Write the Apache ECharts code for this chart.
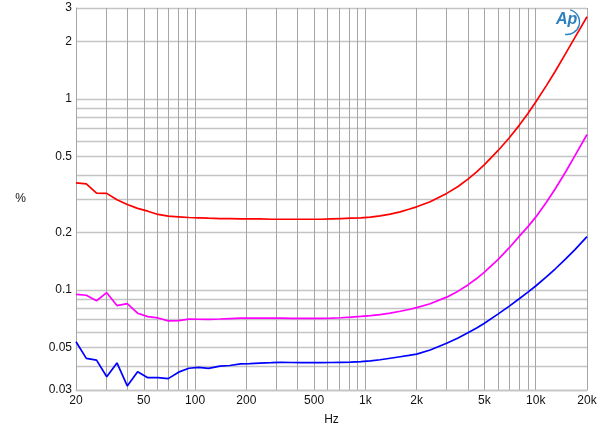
<!DOCTYPE html>
<html>
<head>
<meta charset="utf-8">
<script src="https://cdn.jsdelivr.net/npm/echarts@6/dist/echarts.min.js"></script>
<style>
html,body{margin:0;padding:0;background:#fff;}
#chart{width:600px;height:432px;}
</style>
</head>
<body>
<div id="chart"></div>
<script>
// Frequencies (Hz)
var freq = [20, 23, 26.4, 30.3, 34.8, 40, 46, 52.8, 60.6, 69.6, 80, 92, 105, 120, 140, 160, 185, 210, 240, 280, 320, 370, 420, 480, 550, 630, 720, 820, 940, 1070, 1220, 1400, 1600, 1800, 2000, 2400, 3000, 3500, 4000, 4500, 5000, 6000, 7000, 8000, 9000, 10000, 11500, 13000, 15000, 17000, 20000];

// red trace (%)
var redVals = [0.364, 0.360, 0.322, 0.321, 0.297, 0.281, 0.268, 0.259, 0.249, 0.244, 0.242, 0.240, 0.239, 0.238, 0.237, 0.237, 0.236, 0.236, 0.236, 0.235, 0.235, 0.235, 0.235, 0.235, 0.235, 0.236, 0.237, 0.238, 0.239, 0.241, 0.245, 0.250, 0.257, 0.265, 0.273, 0.290, 0.321, 0.349, 0.381, 0.416, 0.454, 0.537, 0.628, 0.729, 0.842, 0.965, 1.17, 1.396, 1.735, 2.107, 2.698];

// magenta trace (%)
var magentaVals = [0.095, 0.094, 0.088, 0.097, 0.083, 0.085, 0.0757, 0.0727, 0.0715, 0.069, 0.0692, 0.0705, 0.0704, 0.0703, 0.0706, 0.071, 0.0714, 0.0714, 0.0713, 0.0714, 0.0714, 0.0712, 0.0711, 0.0711, 0.0712, 0.0713, 0.0717, 0.0722, 0.0728, 0.0735, 0.0745, 0.0758, 0.0775, 0.0792, 0.081, 0.0848, 0.0919, 0.0988, 0.1065, 0.115, 0.1242, 0.1445, 0.1668, 0.1911, 0.215, 0.241, 0.287, 0.3387, 0.4167, 0.5059, 0.653];

// blue trace (%)
var blueVals = [0.0537, 0.0439, 0.043, 0.0352, 0.0416, 0.0315, 0.0374, 0.0348, 0.0348, 0.0344, 0.0372, 0.039, 0.0394, 0.0389, 0.0400, 0.0403, 0.0411, 0.0412, 0.0415, 0.0417, 0.0419, 0.0418, 0.0417, 0.0417, 0.0417, 0.0418, 0.0419, 0.042, 0.0422, 0.0426, 0.0432, 0.044, 0.0448, 0.0455, 0.0462, 0.0486, 0.0527, 0.0562, 0.0598, 0.0634, 0.0671, 0.0749, 0.0825, 0.0901, 0.0976, 0.1051, 0.1169, 0.129, 0.1457, 0.1631, 0.1906];

// Axis ticks
var xGridTicks = [20, 30, 40, 50, 60, 70, 80, 90, 100, 200, 300, 400, 500, 600, 700, 800, 900, 1000, 2000, 3000, 4000, 5000, 6000, 7000, 8000, 9000, 10000, 20000];
var xLabelTicks = [20, 50, 100, 200, 500, 1000, 2000, 5000, 10000, 20000];
var yGridTicks = [0.03, 0.04, 0.05, 0.06, 0.07, 0.08, 0.09, 0.1, 0.2, 0.3, 0.4, 0.5, 0.6, 0.7, 0.8, 0.9, 1, 2, 3];
var yLabelTicks = [0.03, 0.05, 0.1, 0.2, 0.5, 1, 2, 3];

function pairs(xs, ys) {
  var out = [];
  for (var i = 0; i < xs.length; i++) out.push([xs[i], ys[i]]);
  return out;
}

var vGridColor = '#a6a6a6';
var hGridColor = '#c4c4c4';
var font = '"Liberation Sans", Arial, sans-serif';

var chart = echarts.init(document.getElementById('chart'), null, {renderer: 'canvas'});
chart.setOption({
  animation: false,
  backgroundColor: '#ffffff',
  grid: {left: 76, right: 13, top: 8, bottom: 42, containLabel: false},
  xAxis: {
    type: 'log',
    logBase: 10,
    min: 20,
    max: 20000,
    name: 'Hz',
    nameLocation: 'middle',
    nameGap: 24,
    nameTextStyle: {color: '#111', fontSize: 12, fontFamily: font},
    axisLine: {show: true, lineStyle: {color: hGridColor, width: 1.4}},
    axisTick: {show: false, customValues: xGridTicks},
    splitLine: {show: true, lineStyle: {color: vGridColor, width: 1}},
    axisLabel: {
      customValues: xLabelTicks,
      color: '#111', fontSize: 12, fontFamily: font, margin: 5,
      formatter: function (v) {
        v = Math.round(v);
        return v >= 1000 ? (v / 1000) + 'k' : String(v);
      }
    }
  },
  yAxis: {
    type: 'log',
    logBase: 10,
    min: 0.03,
    max: 3,
    name: '%',
    nameLocation: 'middle',
    nameRotate: 0,
    nameGap: 50,
    nameTextStyle: {color: '#111', fontSize: 12, fontFamily: font},
    axisLine: {show: true, lineStyle: {color: vGridColor, width: 1}},
    axisTick: {show: false, customValues: yGridTicks},
    splitLine: {show: true, lineStyle: {color: hGridColor, width: 1.4}},
    axisLabel: {
      customValues: yLabelTicks,
      color: '#111', fontSize: 12, fontFamily: font, margin: 4,
      formatter: function (v) { return String(parseFloat(Number(v).toPrecision(3))); }
    }
  },
  graphic: [
    {
      type: 'text', left: 556, top: 12, z: 100,
      style: {text: 'Ap', fontSize: 16, fontStyle: 'italic', fontWeight: 'bold', fontFamily: font, fill: '#2a7fc1'}
    },
    {
      type: 'arc', z: 100,
      shape: {cx: 567, cy: 22, r: 12.5, startAngle: -Math.PI * 0.42, endAngle: Math.PI * 0.55},
      style: {stroke: '#2a7fc1', lineWidth: 1.4, fill: null}
    }
  ],
  series: [
    {type: 'line', name: 'red', data: pairs(freq, redVals), showSymbol: false, lineStyle: {color: '#ff0000', width: 1.7}, itemStyle: {color: '#ff0000'}},
    {type: 'line', name: 'magenta', data: pairs(freq, magentaVals), showSymbol: false, lineStyle: {color: '#ff00ff', width: 1.7}, itemStyle: {color: '#ff00ff'}},
    {type: 'line', name: 'blue', data: pairs(freq, blueVals), showSymbol: false, lineStyle: {color: '#0000ff', width: 1.7}, itemStyle: {color: '#0000ff'}}
  ]
});
</script>
</body>
</html>
